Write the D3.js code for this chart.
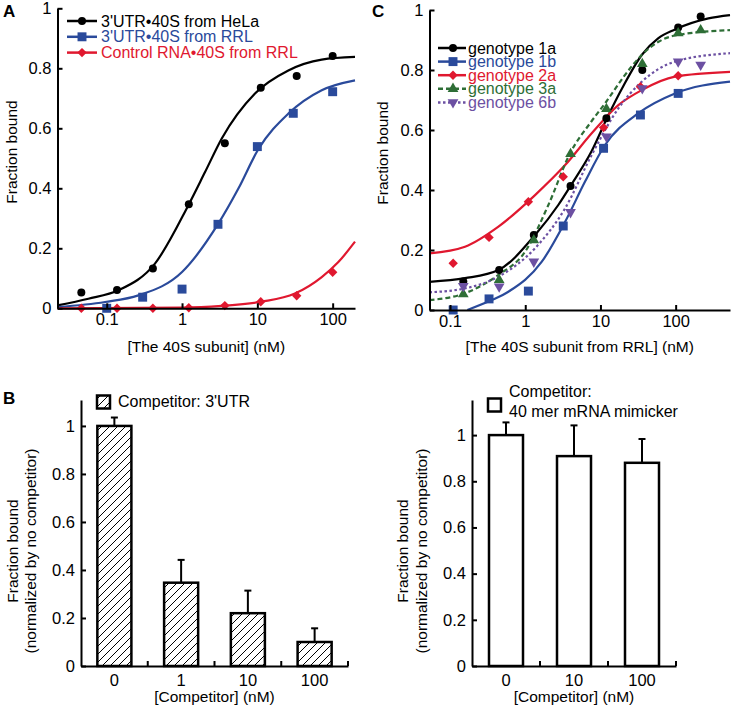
<!DOCTYPE html>
<html lang="en">
<head>
<meta charset="UTF-8">
<title>40S subunit binding</title>
<script src="https://cdn.jsdelivr.net/npm/d3@7"></script>
<style>
  body { margin: 0; background: #fff; }
  text { font-family: "Liberation Sans", Arial, sans-serif; fill: #000; }
</style>
</head>
<body>
<script>
// ---------- panel A : points ----------
const aConc = [0.046, 0.137, 0.41, 1.23, 3.7, 11.1, 33.3, 100];
const aHela = [0.053, 0.061, 0.133, 0.347, 0.55, 0.735, 0.774, 0.841];
const aCtrl = [0, 0, 0, 0.002, 0.009, 0.022, 0.042, 0.12];
const aConcRrl = [0.1, 0.3, 1, 3, 10, 30, 100];
const aRrl = [0, 0.037, 0.064, 0.28, 0.539, 0.65, 0.722];

// panel A : fitted curves, [conc, fraction]
const aHelaFit = [[0.0222, 0.01], [0.057, 0.032], [0.143, 0.06], [0.437, 0.149], [1.21, 0.343], [2.02, 0.454], [3.37, 0.566], [9.3, 0.716], [25.8, 0.793], [71.6, 0.829], [198, 0.838]];
const aRrlFit = [[0.0222, 0.004], [0.095, 0.021], [0.263, 0.043], [1.0, 0.121], [3.03, 0.282], [5.6, 0.399], [10.3, 0.53], [25.8, 0.649], [71.6, 0.727], [198, 0.76]];
const aCtrlFit = [[0.0222, 0], [1.0, 0.002], [3.37, 0.008], [11.4, 0.022], [31.5, 0.049], [71.6, 0.104], [119, 0.154], [198, 0.222]];

// ---------- panel C : points ----------
const cConcA = [0.15, 0.45, 1.3, 4.0, 12, 36, 108, 215];
const cConcB = [0.11, 0.33, 1.1, 3.2, 11, 34, 108];
const g1a = [0.095, 0.133, 0.25, 0.413, 0.639, 0.80, 0.942, 0.978];
const g1b = [0, 0.037, 0.063, 0.28, 0.539, 0.65, 0.722];
const g2a = [0.156, 0.242, 0.361, 0.444, 0.608, 0.744, 0.781];
const g3a = [0.053, 0.10, 0.233, 0.52, 0.67, 0.82, 0.923, 0.933];
const g6b = [0.08, 0.078, 0.161, 0.326, 0.578, 0.739, 0.828, 0.817];

// panel C : fitted curves
const g1aFit = [[0.0533, 0.094], [0.158, 0.106], [0.44, 0.133], [1.35, 0.25], [2.75, 0.35], [4.15, 0.42], [7.65, 0.53], [12.5, 0.645], [20, 0.745], [35.4, 0.85], [59, 0.906], [98, 0.935], [272, 0.972], [528, 0.983]];
const g1bFit = [[0.17, 0], [0.358, 0.033], [0.596, 0.061], [1.66, 0.161], [3.39, 0.294], [6.24, 0.428], [11.5, 0.55], [31.9, 0.656], [98, 0.722], [528, 0.761]];
const g2aFit = [[0.0533, 0.189], [0.158, 0.211], [0.44, 0.278], [1.35, 0.383], [3.39, 0.483], [7.65, 0.589], [17.3, 0.683], [35.4, 0.733], [98, 0.778], [528, 0.794]];
const g3aFit = [[0.0533, 0.033], [0.158, 0.056], [0.44, 0.117], [1.0, 0.195], [2.03, 0.35], [3.9, 0.52], [7.65, 0.63], [12, 0.695], [20, 0.775], [35.4, 0.85], [60, 0.895], [98, 0.915], [528, 0.933]];
const g6bFit = [[0.0533, 0.059], [0.158, 0.072], [0.44, 0.111], [1.35, 0.206], [3.39, 0.339], [7.65, 0.517], [17.3, 0.672], [35.4, 0.761], [98, 0.828], [528, 0.856]];

// ---------- panel B : bars ----------
const bLeftCats = ["0", "1", "10", "100"];
const bLeftVals = [1.0, 0.347, 0.22, 0.10];
const bLeftErr = [0.035, 0.095, 0.094, 0.057];
const bRightCats = ["0", "10", "100"];
const bRightVals = [1.0, 0.909, 0.88];
const bRightErr = [0.055, 0.133, 0.103];

const fracTicks = [0, 0.2, 0.4, 0.6, 0.8, 1];
const concTicks = [0.1, 1, 10, 100];

const BLACK = "#000", BLUE = "#2a4a9b", RED = "#e0182f", GREEN = "#2e6e36", PURPLE = "#6c50a2";
const FS = "15.5px";     // axis titles
const TICK_FS = "16.5px"; // tick labels

var svg = d3.select("body").append("svg")
  .attr("width", 733)
  .attr("height", 710);

svg.append("rect").attr("width", 733).attr("height", 710).attr("fill", "#fff");

var defs = svg.append("defs");
var hatch = defs.append("pattern")
  .attr("id", "hatch")
  .attr("patternUnits", "userSpaceOnUse")
  .attr("width", 8).attr("height", 8);
hatch.append("rect").attr("width", 8).attr("height", 8).attr("fill", "#fff");
hatch.append("path")
  .attr("d", "M-2,2 L2,-2 M0,8 L8,0 M6,10 L10,6")
  .attr("stroke", "#000").attr("stroke-width", 1);

function styleAxis(g) {
  g.select(".domain").attr("stroke", "#000").attr("stroke-width", 2);
  g.selectAll(".tick line").attr("stroke", "#000").attr("stroke-width", 2);
  g.selectAll(".tick text").style("font-size", TICK_FS).attr("fill", "#000");
}

const fracFmt = d => String(+d.toFixed(1));

// marker drawing
function marker(g, shape, color) {
  if (shape === "circle") {
    g.append("circle").attr("r", 4).attr("fill", color);
  } else if (shape === "square") {
    g.append("path").attr("d", d3.symbol(d3.symbolSquare, 80)()).attr("fill", color);
  } else if (shape === "diamond") {
    g.append("path").attr("d", d3.symbol(d3.symbolSquare, 44)()).attr("transform", "rotate(45)").attr("fill", color);
  } else if (shape === "triangle") {
    g.append("path").attr("d", d3.symbol(d3.symbolTriangle, 50)()).attr("fill", color);
  } else if (shape === "triangleDown") {
    g.append("path").attr("d", d3.symbol(d3.symbolTriangle, 50)()).attr("transform", "rotate(180)").attr("fill", color);
  }
}

function curvePanel(p) {
  var x = d3.scaleLog().domain(p.xDomain).range(p.xRange);
  var y = d3.scaleLinear().domain([0, 1]).range(p.yRange);

  p.series.forEach(function (s) {
    var line = d3.line()
      .x(d => x(d[0]))
      .y(d => y(d[1]))
      .curve(d3.curveMonotoneX);
    svg.append("path")
      .datum(s.fit)
      .attr("d", line)
      .attr("fill", "none")
      .attr("stroke", s.color)
      .attr("stroke-width", 2.2)
      .attr("stroke-dasharray", s.dash || null);
  });

  p.series.forEach(function (s) {
    s.vals.forEach(function (v, i) {
      var g = svg.append("g").attr("transform", "translate(" + x(s.conc[i]) + "," + y(v) + ")");
      marker(g, s.shape, s.color);
    });
  });

  // axes, ticks pointing inwards
  var gx = svg.append("g")
    .attr("transform", "translate(0," + p.yRange[0] + ")")
    .call(d3.axisBottom(x).tickValues(concTicks).tickFormat(d => String(d))
      .tickSizeInner(-5).tickSizeOuter(0).tickPadding(5));
  styleAxis(gx);

  var gy = svg.append("g")
    .attr("transform", "translate(" + p.xRange[0] + ",0)")
    .call(d3.axisLeft(y).tickValues(fracTicks).tickFormat(fracFmt)
      .tickSizeInner(-5).tickSizeOuter(0).tickPadding(6));
  styleAxis(gy);

  // legend
  p.series.forEach(function (s, i) {
    var ly = p.legend.y + i * p.legend.dy;
    svg.append("line")
      .attr("x1", p.legend.x1).attr("x2", p.legend.x2)
      .attr("y1", ly).attr("y2", ly)
      .attr("stroke", s.color).attr("stroke-width", 2.5)
      .attr("stroke-dasharray", s.dash || null);
    var g = svg.append("g").attr("transform", "translate(" + p.legend.mx + "," + ly + ")");
    marker(g, s.shape, s.color);
    svg.append("text")
      .attr("x", p.legend.tx).attr("y", ly + p.legend.fs * 0.35)
      .style("font-size", p.legend.fs + "px")
      .style("fill", s.color)
      .text(s.label);
  });

  // labels
  svg.append("text")
    .attr("x", (p.xRange[0] + p.xRange[1]) / 2)
    .attr("y", p.xLabelY)
    .attr("text-anchor", "middle")
    .style("font-size", FS)
    .text(p.xLabel);

  svg.append("text")
    .attr("transform", "translate(" + p.yLabelX + "," + p.yLabelCy + ") rotate(-90)")
    .attr("text-anchor", "middle")
    .style("font-size", FS)
    .text("Fraction bound");

  svg.append("text")
    .attr("x", p.letterX).attr("y", 17)
    .style("font-size", "17px").style("font-weight", "bold")
    .text(p.letter);
}

// Panel A
curvePanel({
  letter: "A", letterX: 3,
  xDomain: [0.0222, 198], xRange: [57.5, 355],
  yRange: [308.3, 8.3],
  xLabel: "[The 40S subunit] (nM)", xLabelY: 352,
  yLabelX: 17, yLabelCy: 152,
  legend: { x1: 67, x2: 97, mx: 82, tx: 101, y: 21, dy: 15.8, fs: 16 },
  series: [
    { label: "3'UTR\u202240S from HeLa", color: BLACK, shape: "circle", conc: aConc, vals: aHela, fit: aHelaFit },
    { label: "3'UTR\u202240S from RRL", color: BLUE, shape: "square", conc: aConcRrl, vals: aRrl, fit: aRrlFit },
    { label: "Control RNA\u202240S from RRL", color: RED, shape: "diamond", conc: aConc, vals: aCtrl, fit: aCtrlFit }
  ]
});

// Panel C
curvePanel({
  letter: "C", letterX: 372,
  xDomain: [0.0533, 528], xRange: [429.5, 730],
  yRange: [310, 10],
  xLabel: "[The 40S subunit from RRL] (nM)", xLabelY: 352,
  yLabelX: 388, yLabelCy: 153,
  legend: { x1: 438, x2: 466, mx: 453, tx: 468, y: 48, dy: 13.6, fs: 16 },
  series: [
    { label: "genotype 1a", color: BLACK, shape: "circle", conc: cConcA, vals: g1a, fit: g1aFit },
    { label: "genotype 1b", color: BLUE, shape: "square", conc: cConcB, vals: g1b, fit: g1bFit },
    { label: "genotype 2a", color: RED, shape: "diamond", conc: cConcB, vals: g2a, fit: g2aFit },
    { label: "genotype 3a", color: GREEN, shape: "triangle", conc: cConcA, vals: g3a, fit: g3aFit, dash: "5,3" },
    { label: "genotype 6b", color: PURPLE, shape: "triangleDown", conc: cConcA, vals: g6b, fit: g6bFit, dash: "2.5,2.5" }
  ]
});

// Panel B bar charts
function barPanel(p) {
  var x = d3.scaleBand().domain(p.cats).range(p.xRange).paddingInner(p.pad).paddingOuter(p.pad / 2);
  var y = d3.scaleLinear().domain(p.yDomain).range([666, 400]);
  var bw = x.bandwidth();

  p.cats.forEach(function (c, i) {
    var top = y(p.vals[i]);
    var errTop = y(p.vals[i] + p.errs[i]);
    var cx = x(c) + bw / 2;
    svg.append("line")
      .attr("x1", cx).attr("x2", cx).attr("y1", top).attr("y2", errTop)
      .attr("stroke", "#000").attr("stroke-width", 2);
    svg.append("line")
      .attr("x1", cx - 3.5).attr("x2", cx + 3.5).attr("y1", errTop).attr("y2", errTop)
      .attr("stroke", "#000").attr("stroke-width", 2);
    svg.append("rect")
      .attr("x", x(c)).attr("y", top)
      .attr("width", bw).attr("height", y(0) - top)
      .attr("fill", p.fill)
      .attr("stroke", "#000").attr("stroke-width", 2.5);
  });

  var gx = svg.append("g")
    .attr("transform", "translate(0,666)")
    .call(d3.axisBottom(x).tickSize(0).tickPadding(8));
  styleAxis(gx);

  // small ticks between the groups
  p.cats.forEach(function (c) {
    var tx = x(c) + (x.step() + bw) / 2;
    svg.append("line")
      .attr("x1", tx).attr("x2", tx).attr("y1", 666).attr("y2", 661)
      .attr("stroke", "#000").attr("stroke-width", 2);
  });

  var gy = svg.append("g")
    .attr("transform", "translate(" + p.xRange[0] + ",0)")
    .call(d3.axisLeft(y).tickValues(fracTicks).tickFormat(fracFmt)
      .tickSizeInner(-5).tickSizeOuter(0).tickPadding(6));
  styleAxis(gy);

  svg.append("text")
    .attr("x", (p.xRange[0] + p.xRange[1]) / 2)
    .attr("y", 702)
    .attr("text-anchor", "middle")
    .style("font-size", FS)
    .text("[Competitor] (nM)");

  svg.append("text")
    .attr("transform", "translate(" + p.yLab1 + ",551) rotate(-90)")
    .attr("text-anchor", "middle")
    .style("font-size", FS)
    .text("Fraction bound");
  svg.append("text")
    .attr("transform", "translate(" + p.yLab2 + ",551) rotate(-90)")
    .attr("text-anchor", "middle")
    .style("font-size", FS)
    .text("(normalized by no competitor)");

  // legend box
  svg.append("rect")
    .attr("x", p.legX).attr("y", p.legY).attr("width", 13).attr("height", 13)
    .attr("fill", p.fill).attr("stroke", "#000").attr("stroke-width", 2.5);
  p.legText.forEach(function (t, i) {
    svg.append("text")
      .attr("x", p.legTx).attr("y", p.legTy + i * 20)
      .style("font-size", "16px")
      .text(t);
  });
}

barPanel({
  cats: bLeftCats, vals: bLeftVals, errs: bLeftErr,
  xRange: [81, 348], pad: 0.49, yDomain: [0, 1.108],
  fill: "url(#hatch)",
  yLab1: 18, yLab2: 36,
  legX: 97, legY: 395.5, legTx: 118, legTy: 407,
  legText: ["Competitor: 3'UTR"]
});

barPanel({
  cats: bRightCats, vals: bRightVals, errs: bRightErr,
  xRange: [472, 676], pad: 0.5, yDomain: [0, 1.152],
  fill: "#fff",
  yLab1: 408, yLab2: 427,
  legX: 488, legY: 398.5, legTx: 509, legTy: 397,
  legText: ["Competitor:", "40 mer mRNA mimicker"]
});

svg.append("text")
  .attr("x", 3).attr("y", 404)
  .style("font-size", "17px").style("font-weight", "bold")
  .text("B");
</script>
</body>
</html>
